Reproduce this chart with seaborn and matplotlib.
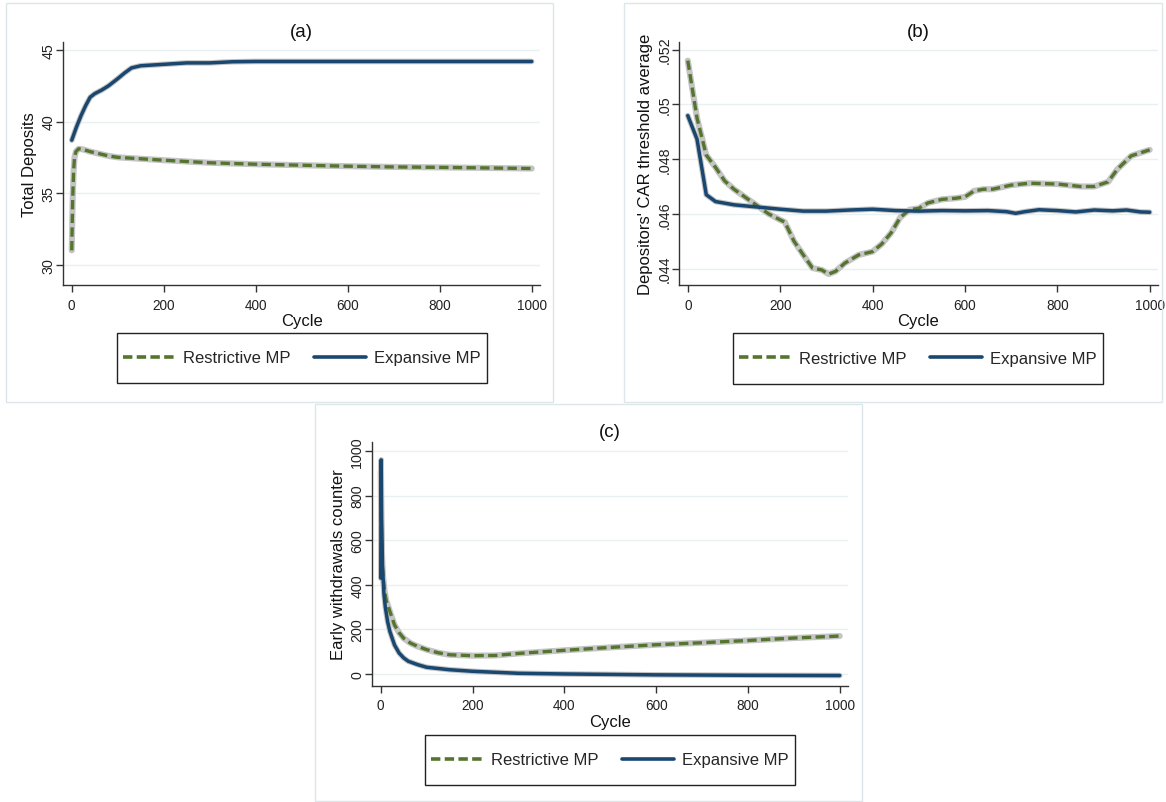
import matplotlib
matplotlib.use("Agg")
import matplotlib.pyplot as plt
import matplotlib.patches as mpatches
from matplotlib.lines import Line2D
import seaborn as sns

# ---- data ----
# (a) Total Deposits
cycle_a_exp = [0, 10, 20, 30, 40, 50, 65, 80, 100, 115, 130, 150, 200, 250, 300, 350, 400, 500, 600, 700, 800, 900, 1000]
deposits_exp = [38.7, 39.6, 40.4, 41.1, 41.7, 41.95, 42.2, 42.5, 43.0, 43.4, 43.75, 43.9, 44.0, 44.1, 44.1, 44.18, 44.2, 44.2, 44.2, 44.2, 44.2, 44.2, 44.2]
cycle_a_res = [0, 2, 4, 6, 9, 15, 25, 40, 60, 80, 100, 150, 200, 300, 400, 500, 600, 700, 800, 900, 1000]
deposits_res = [31.0, 34.5, 36.5, 37.5, 37.9, 38.1, 38.05, 37.9, 37.75, 37.6, 37.5, 37.4, 37.3, 37.12, 37.02, 36.95, 36.88, 36.83, 36.8, 36.76, 36.72]

# (b) Depositors' CAR threshold average
cycle_b_res = [0, 20, 40, 60, 80, 100, 125, 150, 175, 200, 210, 230, 250, 270, 290, 305, 320, 340, 370, 400, 420, 440, 460, 480, 500, 520, 550, 580, 600, 620, 640, 660, 700, 740, 800, 850, 880, 910, 930, 960, 1000]
car_res = [0.0516, 0.0495, 0.04815, 0.0477, 0.0472, 0.0469, 0.0466, 0.0463, 0.0460, 0.04578, 0.0457, 0.0450, 0.0445, 0.04402, 0.04395, 0.04380, 0.0439, 0.0442, 0.0445, 0.04462, 0.0449, 0.0453, 0.04587, 0.04615, 0.0462, 0.0464, 0.04653, 0.04657, 0.04662, 0.04684, 0.0469, 0.0469, 0.04705, 0.04712, 0.04709, 0.047, 0.047, 0.04717, 0.04763, 0.04812, 0.04834]
cycle_b_exp = [0, 20, 40, 60, 100, 150, 200, 250, 300, 350, 400, 450, 500, 550, 600, 650, 690, 710, 730, 760, 800, 840, 880, 920, 950, 980, 1000]
car_exp = [0.04959, 0.04873, 0.0467, 0.04645, 0.04633, 0.04625, 0.04617, 0.0461, 0.0461, 0.04614, 0.04617, 0.04612, 0.0461, 0.04612, 0.04611, 0.04612, 0.04608, 0.04602, 0.04608, 0.04615, 0.04612, 0.04607, 0.04614, 0.04611, 0.04614, 0.04607, 0.04606]

# (c) Early withdrawals counter
cycle_c_res = [0, 1, 3, 5, 8, 12, 20, 30, 40, 50, 65, 80, 100, 125, 150, 200, 250, 300, 400, 500, 600, 700, 800, 900, 1000]
withdrawals_res = [910, 700, 500, 440, 380, 330, 280, 220, 185, 160, 138, 124, 109, 95, 86, 82, 83, 92, 106, 119, 131, 140, 150, 161, 170]
cycle_c_exp = [0, 1, 2, 4, 7, 10, 15, 20, 30, 40, 50, 60, 80, 100, 150, 200, 300, 400, 500, 600, 800, 1000]
withdrawals_exp = [430, 960, 700, 480, 360, 300, 235, 190, 130, 94, 72, 57, 42, 30, 19, 12, 3, 0, -2, -4, -6, -7]

series_labels = ["Restrictive MP", "Expansive MP"]
ticks_x = [0, 200, 400, 600, 800, 1000]

GREEN = "#55752f"
NAVY = "#1a476f"
GRID = "#e8f0f2"
FRAME = "#dde6e8"

sns.set_theme(style="white")
plt.rcParams["font.family"] = ["Liberation Sans", "DejaVu Sans"]

W, H = 1166, 803
fig = plt.figure(figsize=(W / 100, H / 100), dpi=100)
fig.patch.set_facecolor("white")


def fx(px):
    return px / W


def fy(px):
    return 1 - px / H


def box(x0, y0, x1, y1, color, lw):
    fig.patches.append(mpatches.Rectangle((fx(x0), fy(y1)), (x1 - x0) / W, (y1 - y0) / H,
                                          transform=fig.transFigure, fill=False,
                                          edgecolor=color, linewidth=lw, zorder=0))


# light panel frames (graph region boxes)
box(6, 4, 553, 403, FRAME, 1.0)
box(624, 4, 1162, 403, FRAME, 1.0)
box(315, 405, 862, 802, FRAME, 1.0)


def draw_panel(axbox, title, ylabel, res_x, res_y, exp_x, exp_y, ylim, yticks, yticklabels, legbox):
    x0, y0, x1, y1 = axbox
    ax = fig.add_axes([fx(x0), fy(y1), (x1 - x0) / W, (y1 - y0) / H])
    for y in yticks:
        ax.axhline(y, color=GRID, lw=1.0, zorder=0)
    # grey confidence halo under each line
    sns.lineplot(x=res_x, y=res_y, ax=ax, color="#c4c4c4", lw=4.4, zorder=2)
    sns.lineplot(x=exp_x, y=exp_y, ax=ax, color="#c4c4c4", lw=4.0, zorder=2)
    sns.lineplot(x=res_x, y=res_y, ax=ax, color=GREEN, lw=2.4, zorder=3,
                 linestyle=(0, (2.8, 1.3)))
    sns.lineplot(x=exp_x, y=exp_y, ax=ax, color=NAVY, lw=2.5, zorder=4)
    ax.set_xlim(-19, 1018)
    ax.set_ylim(*ylim)
    ax.set_xticks(ticks_x)
    ax.set_xticklabels([str(t) for t in ticks_x], fontsize=9.8)
    ax.set_yticks(yticks)
    ax.set_yticklabels(yticklabels, fontsize=10.3, rotation=90, va="center")
    ax.tick_params(axis="both", direction="out", length=5, width=1, color="#333333",
                   colors="#222222", bottom=True, left=True)
    ax.tick_params(axis="x", pad=4)
    ax.tick_params(axis="y", pad=0.5)
    sns.despine(ax=ax)
    for s in ("left", "bottom"):
        ax.spines[s].set_color("#333333")
        ax.spines[s].set_linewidth(1.0)
    ax.set_xlabel("Cycle", fontsize=12, labelpad=1, color="#111111")
    ax.set_ylabel(ylabel, fontsize=12, labelpad=3, color="#111111")
    ax.set_title(title, fontsize=13.5, pad=4.5, color="#111111")

    # legend: box drawn separately so its padding matches
    lx0, ly0, lx1, ly1 = legbox
    box(lx0, ly0, lx1, ly1, "#222222", 1.0)
    handles = [Line2D([], [], color=GREEN, lw=2.6, linestyle=(0, (2.6, 1.2))),
               Line2D([], [], color=NAVY, lw=2.6)]
    ax.legend(handles, series_labels, loc="center", ncol=2,
              bbox_to_anchor=(fx((lx0 + lx1) / 2), fy((ly0 + ly1) / 2)),
              bbox_transform=fig.transFigure, frameon=False,
              fontsize=12, handlelength=3.1, columnspacing=1.4,
              borderpad=0.2, handletextpad=0.5)
    return ax


draw_panel((63, 43, 540, 286), "(a)", "Total Deposits",
           cycle_a_res, deposits_res, cycle_a_exp, deposits_exp,
           (28.58, 45.56), [30, 35, 40, 45], ["30", "35", "40", "45"],
           (117, 334, 487, 384))

draw_panel((679, 43, 1158, 286), "(b)", "Depositors' CAR threshold average",
           cycle_b_res, car_res, cycle_b_exp, car_exp,
           (0.0434, 0.05228), [0.044, 0.046, 0.048, 0.050, 0.052],
           [".044", ".046", ".048", ".05", ".052"],
           (733, 334, 1103, 385))

draw_panel((372, 443, 848, 687), "(c)", "Early withdrawals counter",
           cycle_c_res, withdrawals_res, cycle_c_exp, withdrawals_exp,
           (-54, 1040), [0, 200, 400, 600, 800, 1000],
           ["0", "200", "400", "600", "800", "1000"],
           (425, 736, 795, 786))

fig.savefig("out.png", dpi=100, facecolor="white")
plt.close(fig)
